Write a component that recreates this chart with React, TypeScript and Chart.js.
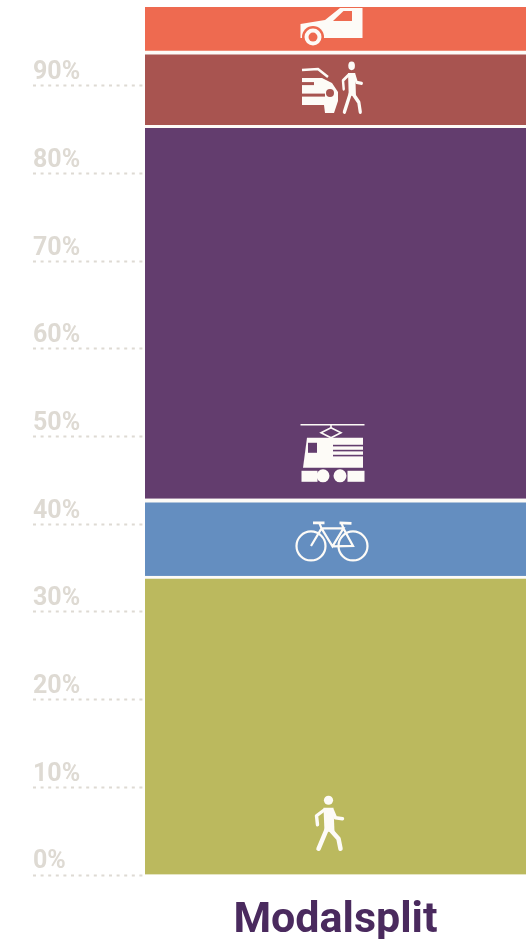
import { useEffect, useRef } from "react";
import { Chart, registerables } from "chart.js";

Chart.register(...registerables);

const categories = ["Modalsplit"];
const modes = ["Lopen", "Fiets", "OV", "Auto passagier", "Auto bestuurder"];
const shares = [34.1, 8.8, 42.6, 8.5, 5.0];
const colours = ["#bbb95e", "#648ec0", "#633d6e", "#a85450", "#ee6a50"];
const icons = ["walker", "bike", "train", "kissride", "car"];
const iconAnchors = [0.17, 0.5, 0.11, 0.5, 0.45];
const tickValues = [0, 10, 20, 30, 40, 50, 60, 70, 80, 90];

const WHITE = "#fdfbf7";

type Painter = (c: CanvasRenderingContext2D) => void;

// Icons are drawn around (0, 0) in plain pixels and placed by the bar they belong to.
const drawPerson: Painter = (c) => {
  c.beginPath();
  c.arc(-4, -23.5, 4.6, 0, Math.PI * 2);
  c.fill();
  c.beginPath();
  c.moveTo(-9, -16);
  c.lineTo(1, -16);
  c.lineTo(2, 8);
  c.lineTo(-8, 8);
  c.closePath();
  c.fill();
  c.lineCap = "round";
  c.lineJoin = "round";
  c.lineWidth = 4.5;
  c.beginPath();
  c.moveTo(-6, 6);
  c.lineTo(-14, 25);
  c.moveTo(-2, 6);
  c.lineTo(6, 15);
  c.lineTo(8, 25);
  c.stroke();
  c.lineWidth = 3.4;
  c.beginPath();
  c.moveTo(-8, -14);
  c.lineTo(-16, -8);
  c.lineTo(-15, 1);
  c.moveTo(0, -13);
  c.lineTo(3, -6);
  c.lineTo(10, -5);
  c.stroke();
};

const painters: Record<string, Painter> = {
  walker: drawPerson,
  car: (c) => {
    c.beginPath();
    c.moveTo(-32, 7);
    c.lineTo(-32, -7);
    c.lineTo(-7.5, -11);
    c.lineTo(7.5, -23);
    c.lineTo(27, -23);
    c.lineTo(30, -23);
    c.lineTo(30, 7);
    c.closePath();
    c.fill();
    c.fillStyle = colours[4];
    c.beginPath();
    c.moveTo(0.5, -10);
    c.lineTo(11, -20);
    c.lineTo(19.5, -20);
    c.lineTo(19.5, -10);
    c.closePath();
    c.fill();
    c.beginPath();
    c.arc(-19.5, 6, 11, 0, Math.PI * 2);
    c.fill();
    c.fillStyle = WHITE;
    c.beginPath();
    c.arc(-19.5, 6, 8.5, 0, Math.PI * 2);
    c.fill();
    c.fillStyle = colours[4];
    c.beginPath();
    c.arc(-19.5, 6, 4.5, 0, Math.PI * 2);
    c.fill();
  },
  kissride: (c) => {
    c.save();
    c.translate(-12.5, 0);
    c.beginPath();
    c.moveTo(-18, -10);
    c.lineTo(2, -10);
    c.lineTo(12, -5);
    c.lineTo(18, 4);
    c.lineTo(18, 13);
    c.lineTo(14, 25);
    c.lineTo(5, 25);
    c.lineTo(4, 17);
    c.lineTo(-18, 17);
    c.closePath();
    c.fill();
    c.fillStyle = colours[3];
    c.fillRect(-18, 5.5, 23, 3);
    c.fillRect(-18, -6, 12, 3);
    c.beginPath();
    c.arc(10, 5, 4, 0, Math.PI * 2);
    c.fill();
    c.strokeStyle = WHITE;
    c.lineWidth = 2.5;
    c.beginPath();
    c.moveTo(-18, -18);
    c.lineTo(-2, -19);
    c.lineTo(8, -11);
    c.stroke();
    c.restore();
    c.save();
    c.translate(22, 0);
    c.scale(0.72, 0.95);
    drawPerson(c);
    c.restore();
  },
  train: (c) => {
    c.strokeStyle = WHITE;
    c.lineWidth = 1.6;
    c.beginPath();
    c.moveTo(-32, -33);
    c.lineTo(32, -33);
    c.moveTo(-1.5, -33);
    c.lineTo(-1.5, -30);
    c.lineTo(-11.5, -25);
    c.lineTo(-1.5, -20);
    c.lineTo(8.5, -25);
    c.lineTo(-1.5, -30);
    c.stroke();
    c.beginPath();
    c.moveTo(-25.5, -20);
    c.lineTo(30.5, -20);
    c.lineTo(30.5, 10);
    c.lineTo(-29.5, 10);
    c.closePath();
    c.fill();
    c.fillRect(-31, 13, 16, 11);
    c.fillRect(15, 13, 17, 11);
    c.beginPath();
    c.arc(-9.5, 18, 6.5, 0, Math.PI * 2);
    c.arc(7.5, 18, 6.5, 0, Math.PI * 2);
    c.fill();
    c.fillStyle = colours[2];
    c.fillRect(-24.5, -15, 9, 10);
    c.fillRect(0.5, -13, 30, 1.6);
    c.fillRect(0.5, -8, 30, 1.6);
    c.fillRect(0.5, -3, 30, 1.6);
  },
  bike: (c) => {
    c.strokeStyle = WHITE;
    c.lineWidth = 2.2;
    c.beginPath();
    c.arc(-21.5, 8.5, 14.5, 0, Math.PI * 2);
    c.moveTo(35, 8.5);
    c.arc(20.5, 8.5, 14.5, 0, Math.PI * 2);
    c.stroke();
    c.beginPath();
    c.moveTo(-21.5, 8.5);
    c.lineTo(-11, -9);
    c.lineTo(11, -9);
    c.lineTo(0, 9);
    c.lineTo(-11, -9);
    c.moveTo(0, 9);
    c.lineTo(20.5, 8.5);
    c.lineTo(11, -9);
    c.moveTo(11, -9);
    c.lineTo(9, -14);
    c.moveTo(-11, -9);
    c.lineTo(-13, -14);
    c.stroke();
    c.lineWidth = 2.8;
    c.beginPath();
    c.moveTo(-19.5, -14.5);
    c.lineTo(-8, -14.5);
    c.moveTo(7, -14.5);
    c.lineTo(19, -14);
    c.stroke();
  },
};

const iconPlugin = {
  id: "modeIcons",
  afterDatasetsDraw(chart: Chart) {
    const { ctx } = chart;
    chart.data.datasets.forEach((_, i) => {
      const bar = chart.getDatasetMeta(i).data[0] as any;
      const top = Math.min(bar.y, bar.base);
      const height = Math.abs(bar.base - bar.y);
      ctx.save();
      ctx.translate(bar.x - 3, top + height * (1 - iconAnchors[i]));
      ctx.fillStyle = WHITE;
      ctx.strokeStyle = WHITE;
      painters[icons[i]](ctx);
      ctx.restore();
    });
  },
};

export default function App() {
  const ref = useRef<HTMLCanvasElement>(null);

  useEffect(() => {
    if (!ref.current) return;
    const chart = new Chart(ref.current, {
      type: "bar",
      plugins: [iconPlugin],
      data: {
        labels: categories,
        datasets: modes.map((label, i) => ({
          label,
          data: [shares[i]],
          backgroundColor: colours[i],
          borderColor: WHITE,
          borderWidth: i === modes.length - 1 ? 0 : { top: i % 2 ? 4 : 3, right: 0, bottom: 0, left: 0 },
          borderSkipped: false,
          barPercentage: 1,
          categoryPercentage: 1,
        })),
      },
      options: {
        animation: false,
        responsive: false,
        layout: { padding: { left: 33, top: 7, right: 0, bottom: 0 } },
        plugins: { legend: { display: false }, tooltip: { enabled: false } },
        scales: {
          x: {
            stacked: true,
            grid: { display: false },
            border: { display: false },
            ticks: {
              padding: 12,
              color: "#4a2a5e",
              font: { family: "Roboto", weight: "bold", size: 43 },
            },
            afterFit(scale: any) {
              scale.height = 64;
            },
          },
          y: {
            stacked: true,
            min: 0,
            max: shares.reduce((sum, v) => sum + v, 0),
            afterBuildTicks(scale: any) {
              scale.ticks = tickValues.map((value) => ({ value }));
            },
            afterFit(scale: any) {
              scale.width = 112;
              scale.paddingTop = 0;
              scale.paddingBottom = 0;
            },
            border: { display: false },
            grid: {
              drawOnChartArea: false,
              tickLength: 112,
              tickWidth: 2,
              tickColor: "#dedad3",
              tickBorderDash: [3, 4.6],
            },
            ticks: {
              autoSkip: false,
              crossAlign: "far",
              labelOffset: -13,
              color: "#dedad3",
              font: { family: "Roboto", weight: "bold", size: 25 },
              callback: (value: number | string) => `${value}%`,
            },
          },
        },
      },
    } as any);
    return () => chart.destroy();
  }, []);

  return (
    <canvas
      ref={ref}
      width={526}
      height={939}
      style={{ position: "absolute", top: 0, left: 0, width: 526, height: 939 }}
    />
  );
}
